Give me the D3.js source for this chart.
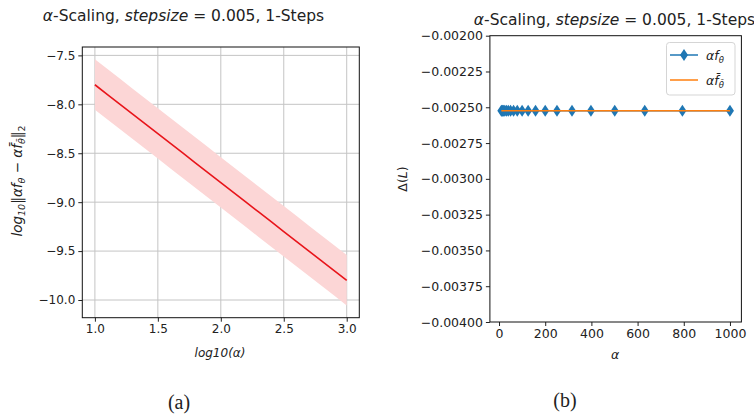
<!DOCTYPE html>
<html><head><meta charset="utf-8">
<script src="https://cdn.jsdelivr.net/npm/d3@7"></script>
<style>
body{margin:0;background:#fff;}
svg text{font-family:"DejaVu Sans",sans-serif;fill:#222;}
svg text.cap{font-family:"Liberation Serif","DejaVu Serif",serif;}
</style></head>
<body><svg id="c" width="754" height="415"></svg>
<script>
// ---------- data (a) ----------
const logAlpha = [1.0,1.1,1.2,1.3,1.4,1.5,1.6,1.7,1.8,1.9,2.0,2.1,2.2,2.3,2.4,2.5,2.6,2.7,2.8,2.9,3.0];
const meanErr  = [-7.8,-7.9,-8.0,-8.1,-8.2,-8.3,-8.4,-8.5,-8.6,-8.7,-8.8,-8.9,-9.0,-9.1,-9.2,-9.3,-9.4,-9.5,-9.6,-9.7,-9.8];
const upperErr = [-7.54,-7.64,-7.74,-7.84,-7.94,-8.04,-8.14,-8.24,-8.34,-8.44,-8.54,-8.64,-8.74,-8.84,-8.94,-9.04,-9.14,-9.24,-9.34,-9.44,-9.54];
const lowerErr = [-8.055,-8.155,-8.255,-8.355,-8.455,-8.555,-8.655,-8.755,-8.855,-8.955,-9.055,-9.155,-9.255,-9.355,-9.455,-9.555,-9.655,-9.755,-9.855,-9.955,-10.055];
const xTicksA = [1.0,1.5,2.0,2.5,3.0];
const yTicksA = [-7.5,-8.0,-8.5,-9.0,-9.5,-10.0];

// ---------- data (b) ----------
const alphas   = [10,13,16,20,25,32,40,50,63,79,100,126,158,200,251,316,398,501,631,794,1000];
const deltaF   = [-0.002524,-0.002524,-0.002524,-0.002524,-0.002524,-0.002524,-0.002524,-0.002524,-0.002524,-0.002524,-0.002524,-0.002524,-0.002524,-0.002524,-0.002524,-0.002524,-0.002524,-0.002524,-0.002524,-0.002524,-0.002524];
const deltaFbar= [-0.002524,-0.002524,-0.002524,-0.002524,-0.002524,-0.002524,-0.002524,-0.002524,-0.002524,-0.002524,-0.002524,-0.002524,-0.002524,-0.002524,-0.002524,-0.002524,-0.002524,-0.002524,-0.002524,-0.002524,-0.002524];
const xTicksB = [0,200,400,600,800,1000];
const yTicksB = [-0.002,-0.00225,-0.0025,-0.00275,-0.003,-0.00325,-0.0035,-0.00375,-0.004];

const svg = d3.select("#c");
const minus = s => s.replace("-", "\u2212");
function pad(ext){const r=ext[1]-ext[0];return [ext[0]-0.05*r, ext[1]+0.05*r];}

// ================= (a) =================
const A = {l:82.3, r:359.3, t:47, b:317.7};
const xA = d3.scaleLinear().domain(pad(d3.extent(logAlpha))).range([A.l, A.r]);
const yA = d3.scaleLinear().domain(pad([d3.min(lowerErr), d3.max(upperErr)])).range([A.b, A.t]);
const gA = svg.append("g");
gA.selectAll(".gx").data(xTicksA).join("line").attr("x1",d=>xA(d)).attr("x2",d=>xA(d)).attr("y1",A.t).attr("y2",A.b).attr("stroke","#c4c4c4").attr("stroke-width",1);
gA.selectAll(".gy").data(yTicksA).join("line").attr("y1",d=>yA(d)).attr("y2",d=>yA(d)).attr("x1",A.l).attr("x2",A.r).attr("stroke","#c4c4c4").attr("stroke-width",1);
const idx = d3.range(logAlpha.length);
gA.append("path").datum(idx).attr("fill","#fcd6d6")
  .attr("d", d3.area().x(i=>xA(logAlpha[i])).y0(i=>yA(lowerErr[i])).y1(i=>yA(upperErr[i])));
gA.append("path").datum(idx).attr("fill","none").attr("stroke","#e8151b").attr("stroke-width",1.6)
  .attr("d", d3.line().x(i=>xA(logAlpha[i])).y(i=>yA(meanErr[i])));
const axA_x = gA.append("g").attr("transform",`translate(0,${A.b})`)
  .call(d3.axisBottom(xA).tickValues(xTicksA).tickFormat(d3.format(".1f")).tickSize(4).tickPadding(3));
const axA_y = gA.append("g").attr("transform",`translate(${A.l},0)`)
  .call(d3.axisLeft(yA).tickValues(yTicksA).tickFormat(d=>minus(d3.format(".1f")(d))).tickSize(4).tickPadding(3));
[axA_x,axA_y].forEach(a=>{a.select(".domain").remove();a.selectAll("text").attr("font-size",12).attr("fill","#222");a.selectAll("line").attr("stroke","#222");});
gA.append("rect").attr("x",A.l).attr("y",A.t).attr("width",A.r-A.l).attr("height",A.b-A.t).attr("fill","none").attr("stroke","#111").attr("stroke-width",1);

function title(x, y){
  const t = svg.append("text").attr("x",x).attr("y",y).attr("text-anchor","middle").attr("font-size",15.5);
  t.append("tspan").attr("font-style","italic").text("α");
  t.append("tspan").text("-Scaling, ");
  t.append("tspan").attr("font-style","italic").text("stepsize");
  t.append("tspan").text(" = 0.005, 1-Steps");
}
title(183.5, 21);
svg.append("text").attr("x",220).attr("y",357).attr("text-anchor","middle").attr("font-size",12).attr("font-style","italic").text("log10(α)");
{
  const t = svg.append("text").attr("transform","translate(22,181) rotate(-90)").attr("text-anchor","middle").attr("font-size",13.5).attr("font-style","italic");
  t.append("tspan").text("log");
  t.append("tspan").attr("font-size",9.5).attr("dy",3).text("10");
  t.append("tspan").attr("dy",-3).attr("font-style","normal").text("‖");
  t.append("tspan").text("αf");
  t.append("tspan").attr("font-size",9.5).attr("dy",3).text("θ");
  t.append("tspan").attr("dy",-3).attr("font-style","normal").text(" − ");
  t.append("tspan").text("αf\u0304");
  t.append("tspan").attr("font-size",9.5).attr("dy",3).text("θ\u0304");
  t.append("tspan").attr("dy",-3).attr("font-style","normal").text("‖");
  t.append("tspan").attr("font-size",9.5).attr("dy",3).attr("font-style","normal").text("2");
}
svg.append("text").attr("class","cap").attr("x",179).attr("y",409).attr("text-anchor","middle").attr("font-size",20).text("(a)");

// ================= (b) =================
const B = {l:489.9, r:741.4, t:35.7, b:322};
const xB = d3.scaleLinear().domain(pad(d3.extent(alphas))).range([B.l, B.r]);
const yB = d3.scaleLinear().domain([-0.004,-0.002]).range([B.b, B.t]);
const gB = svg.append("g");
const idxB = d3.range(alphas.length);
gB.append("path").datum(idxB).attr("fill","none").attr("stroke","#1f77b4").attr("stroke-width",1.5)
  .attr("d", d3.line().x(i=>xB(alphas[i])).y(i=>yB(deltaF[i])));
const diamond = "M0,-6L4,0L0,6L-4,0Z";
gB.selectAll(".mk").data(idxB).join("path").attr("d",diamond)
  .attr("transform",i=>`translate(${xB(alphas[i])},${yB(deltaF[i])})`).attr("fill","#1f77b4");
gB.append("path").datum(idxB).attr("fill","none").attr("stroke","#ff7f0e").attr("stroke-width",1.5)
  .attr("d", d3.line().x(i=>xB(alphas[i])).y(i=>yB(deltaFbar[i])));
const axB_x = gB.append("g").attr("transform",`translate(0,${B.b})`)
  .call(d3.axisBottom(xB).tickValues(xTicksB).tickFormat(d3.format("d")).tickSize(4).tickPadding(3));
const axB_y = gB.append("g").attr("transform",`translate(${B.l},0)`)
  .call(d3.axisLeft(yB).tickValues(yTicksB).tickFormat(d=>minus(d3.format(".5f")(d))).tickSize(4).tickPadding(3));
[axB_x,axB_y].forEach(a=>{a.select(".domain").remove();a.selectAll("text").attr("font-size",12.5).attr("fill","#222");a.selectAll("line").attr("stroke","#222");});
gB.append("rect").attr("x",B.l).attr("y",B.t).attr("width",B.r-B.l).attr("height",B.b-B.t).attr("fill","none").attr("stroke","#111").attr("stroke-width",1);

title(614.5, 25);
svg.append("text").attr("x",615).attr("y",359).attr("text-anchor","middle").attr("font-size",12.5).attr("font-style","italic").text("α");
{
  const t = svg.append("text").attr("transform","translate(407,179) rotate(-90)").attr("text-anchor","middle").attr("font-size",12.5);
  t.append("tspan").text("Δ(");
  t.append("tspan").attr("font-style","italic").text("L");
  t.append("tspan").text(")");
}
svg.append("text").attr("class","cap").attr("x",565).attr("y",407).attr("text-anchor","middle").attr("font-size",20).text("(b)");

const lg = svg.append("g");
lg.append("rect").attr("x",666.5).attr("y",42.5).attr("width",68.5).attr("height",52.5).attr("rx",3).attr("fill","#fff").attr("fill-opacity",0.85).attr("stroke","#d5d5d5");
lg.append("line").attr("x1",670).attr("x2",698).attr("y1",55).attr("y2",55).attr("stroke","#1f77b4").attr("stroke-width",1.5);
lg.append("path").attr("d",diamond).attr("transform","translate(684,55)").attr("fill","#1f77b4");
lg.append("line").attr("x1",670).attr("x2",698).attr("y1",80).attr("y2",80).attr("stroke","#ff7f0e").attr("stroke-width",1.5);
{
  const t = lg.append("text").attr("x",706).attr("y",59.5).attr("font-size",12.5).attr("font-style","italic");
  t.append("tspan").text("αf");
  t.append("tspan").attr("font-size",8.5).attr("dy",3).text("θ");
  const t2 = lg.append("text").attr("x",706).attr("y",84.5).attr("font-size",12.5).attr("font-style","italic");
  t2.append("tspan").text("αf\u0304");
  t2.append("tspan").attr("font-size",8.5).attr("dy",3).text("θ\u0304");
}
</script></body></html>
